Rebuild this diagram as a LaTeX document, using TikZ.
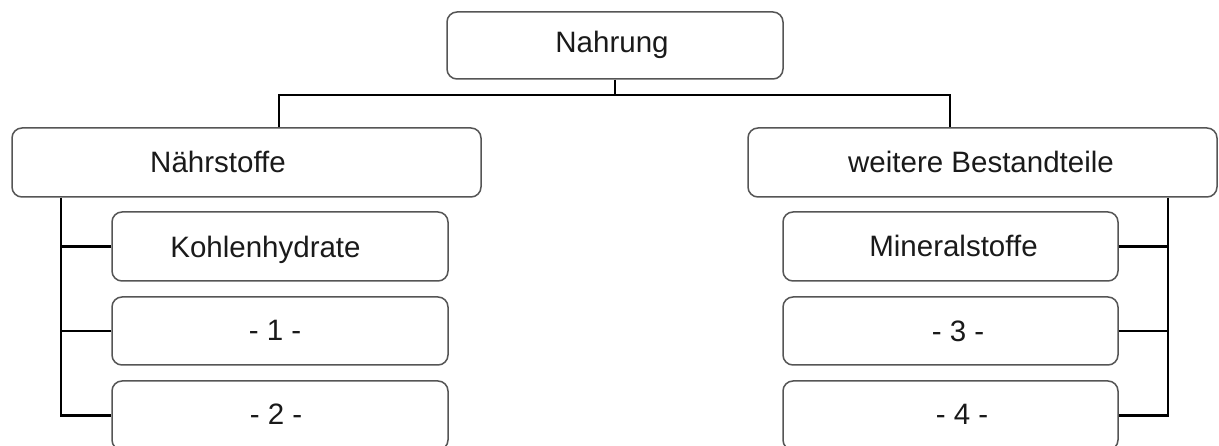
\documentclass[tikz,border=0pt]{standalone}
\usepackage{fontspec}
\setmainfont{Liberation Sans}
\begin{document}
\begin{tikzpicture}[x=1pt,y=-1pt,
  box/.style={draw=boxgray, line width=1.5pt, rounded corners=10pt, rectangle, inner sep=0pt, fill=white},
  wide/.style={box, minimum width=469pt, minimum height=69pt},
  mid/.style={box, minimum width=336pt, minimum height=69pt},
  lbl/.style={anchor=base, inner sep=0pt, text=txt, font=\fontsize{29.5}{35}\selectfont},
  conn/.style={draw=black, line width=2.8pt}]
\definecolor{boxgray}{HTML}{555555}
\definecolor{txt}{HTML}{1A1A1A}
\clip (0,0) rectangle (1219,446);
\fill[white] (0,0) rectangle (1219,446);
% boxes
\node[box, minimum width=336pt, minimum height=67pt] (nahrung) at (615,45.5) {};
\node[wide] (naehr) at (246.5,162.5) {};
\node[wide] (weitere) at (982.5,162.5) {};
\node[mid] (L1) at (280,246.5) {};
\node[mid, minimum height=68pt] (L2) at (280,331) {};
\node[mid] (L3) at (280,415.5) {};
\node[mid, minimum width=335pt] (R1) at (950.5,246.5) {};
\node[mid, minimum width=335pt, minimum height=68pt] (R2) at (950.5,331) {};
\node[mid, minimum width=335pt] (R3) at (950.5,415.5) {};
% labels
\node[lbl] (tnahrung) at (612,53) {Nahrung};
\node[lbl] (tnaehr) at (218,173) {Nährstoffe};
\node[lbl] (tweitere) at (981,172.5) {weitere Bestandteile};
\node[lbl] (tL1) at (265.5,258) {Kohlenhydrate};
\node[lbl] (tL2) at (275,341) {- 1 -};
\node[lbl] (tL3) at (276,424.5) {- 2 -};
\node[lbl] (tR1) at (953.5,256.5) {Mineralstoffe};
\node[lbl] (tR2) at (958,342) {- 3 -};
\node[lbl] (tR3) at (962,424.5) {- 4 -};
% connector coordinates
\coordinate (busL) at (279,95);
\coordinate (busR) at (950,95);
\coordinate (spL) at (61,0);
\coordinate (spR) at (1168,0);
% top connectors
\draw[conn] (nahrung.south) -- (nahrung.south |- busL);
\draw[conn, line join=miter] (naehr.north -| busL) -- (busL) -- (busR) -- (weitere.north -| busR);
% left spine
\draw[conn, line join=miter] (naehr.south -| spL) |- (L3.west);
\draw[conn] (L1.west) -- (L1.west -| spL);
\draw[conn] (L2.west) -- (L2.west -| spL);
% right spine
\draw[conn, line join=miter] (weitere.south -| spR) |- (R3.east);
\draw[conn] (R1.east) -- (R1.east -| spR);
\draw[conn] (R2.east) -- (R2.east -| spR);
\end{tikzpicture}
\end{document}
